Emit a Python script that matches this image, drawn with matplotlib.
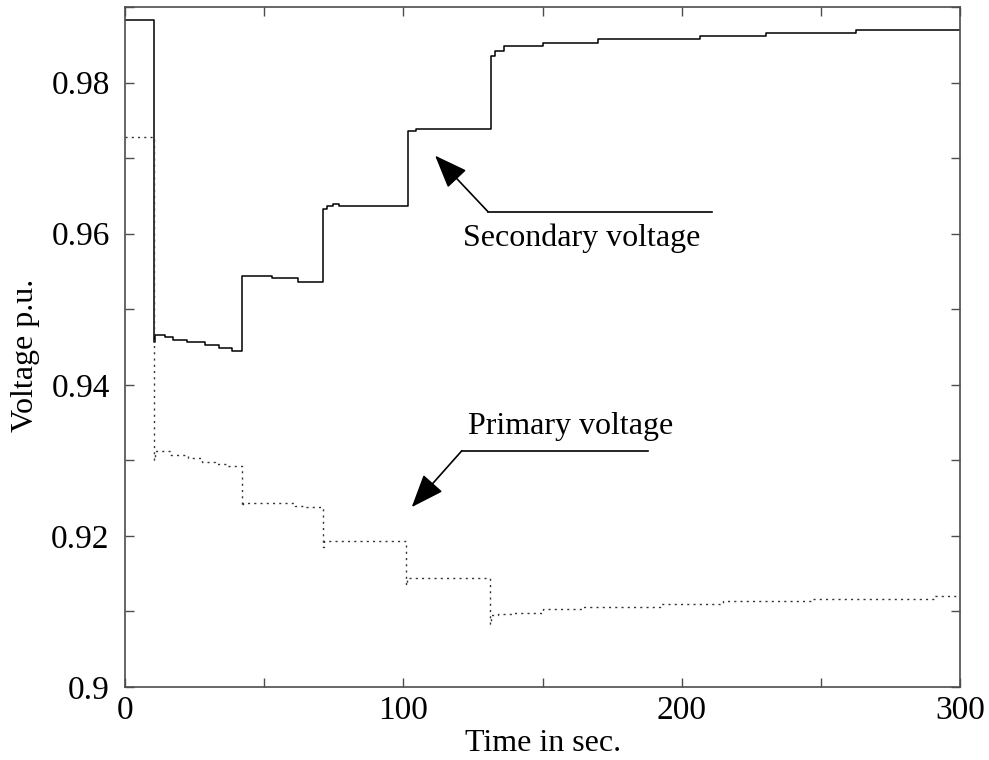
import matplotlib
matplotlib.use("Agg")
import matplotlib.pyplot as plt
from matplotlib.ticker import MultipleLocator, FuncFormatter

plt.rcParams['font.family'] = ['Liberation Serif', 'DejaVu Serif']
plt.rcParams['font.size'] = 23

# secondary (load side) voltage, piecewise constant between tap changes
sec_t = [0, 10.5, 10.6, 14.4, 17.4, 22.2, 28.7, 33.7, 38.3, 42.2, 52.7, 62.3,
         71.0, 72.4, 74.9, 76.9, 101.5, 104.4, 131.4, 133.0, 136.0, 150.0,
         170.0, 206.6, 230.2, 262.7, 300]
sec_v = [0.9883, 0.9456, 0.94662, 0.94627, 0.94596, 0.9456, 0.9452, 0.94486,
         0.9445, 0.95444, 0.95408, 0.95364, 0.96327, 0.96362, 0.96393, 0.96362,
         0.97355, 0.97385, 0.9835, 0.9842, 0.9848, 0.9853, 0.9857, 0.9862,
         0.98658, 0.98692, 0.98692]

# primary (supply side) voltage
pri_t = [0, 10.5, 10.7, 16.2, 22.6, 27.5, 32.3, 37.0, 42.2, 42.5, 61.0, 65.0,
         71.3, 71.5, 101.0, 101.3, 131.2, 131.5, 134.0, 139.5, 150.3, 164.7,
         192.2, 214.9, 246.9, 291.0, 300]
pri_v = [0.97285, 0.9301, 0.93117, 0.93073, 0.9303, 0.92984, 0.9295, 0.92927,
         0.9240, 0.92433, 0.92401, 0.92388, 0.91858, 0.91938, 0.9135, 0.9144,
         0.9083, 0.90954, 0.90967, 0.90984, 0.91029, 0.91055, 0.91094, 0.91134,
         0.91166, 0.9120, 0.9120]

fig = plt.figure(figsize=(9.89, 7.6), dpi=100)
ax = fig.add_axes([0.1264, 0.0961, 0.8443, 0.8947])

ax.step(sec_t, sec_v, where='post', color='black', lw=1.1)
ax.step(pri_t, pri_v, where='post', color='0.2', lw=1.0,
        linestyle=(0, (1.5, 3)))

ax.set_xlim(0, 300)
ax.set_ylim(0.9, 0.99)

ax.xaxis.set_major_locator(MultipleLocator(100))
ax.xaxis.set_minor_locator(MultipleLocator(50))
ax.yaxis.set_major_locator(MultipleLocator(0.02))
ax.yaxis.set_minor_locator(MultipleLocator(0.01))
ax.yaxis.set_major_formatter(FuncFormatter(lambda v, p: '%g' % round(v, 3)))

ax.tick_params(which='both', direction='in', top=True, right=True,
               length=6.5, width=1.0, color='0.3', labelsize=24)
ax.tick_params(axis='x', pad=6)
ax.tick_params(axis='y', pad=11)
for s in ax.spines.values():
    s.set_color('0.3')
    s.set_linewidth(1.2)

ax.set_xlabel('Time in sec.')
ax.set_ylabel('Voltage p.u.')
ax.xaxis.set_label_coords(0.5006, -0.062)
ax.yaxis.set_label_coords(-0.102, 0.488)

# labels with leader lines and arrows
ax.plot([130.4, 210.9], [0.96291, 0.96291], color='black', lw=1.2)
ax.annotate('', xy=(111.4, 0.97033), xytext=(130.4, 0.96291),
            arrowprops=dict(arrowstyle='-|>,head_length=0.9,head_width=0.35',
                            color='black', lw=1.2, shrinkA=0, shrinkB=0),
            annotation_clip=False)
ax.text(164.2, 0.95934, 'Secondary voltage', ha='center', va='center')

ax.plot([121.0, 187.8], [0.93126, 0.93126], color='black', lw=1.2)
ax.annotate('', xy=(103.0, 0.9238), xytext=(121.0, 0.93126),
            arrowprops=dict(arrowstyle='-|>,head_length=0.9,head_width=0.35',
                            color='black', lw=1.2, shrinkA=0, shrinkB=0),
            annotation_clip=False)
ax.text(160.0, 0.93444, 'Primary voltage', ha='center', va='center')

fig.savefig('out.png', dpi=100)
